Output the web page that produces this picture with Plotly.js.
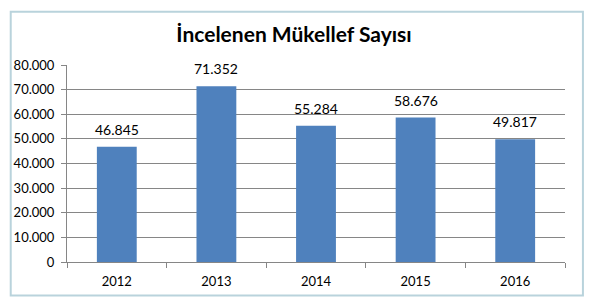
<!DOCTYPE html>
<html>
<head>
<meta charset="utf-8">
<script src="https://cdn.plot.ly/plotly-3.0.1.min.js"></script>
<style>html,body{margin:0;padding:0;background:#fff;}#chart{width:594px;height:303px;}</style>
</head>
<body>
<div id="chart"></div>
<script>
var years = ["2012", "2013", "2014", "2015", "2016"];
var counts = [46845, 71352, 55284, 58676, 49817];
var countLabels = ["46.845", "71.352", "55.284", "58.676", "49.817"];
var yTickVals = [0, 10000, 20000, 30000, 40000, 50000, 60000, 70000, 80000];
var yTickText = ["0", "10.000", "20.000", "30.000", "40.000", "50.000", "60.000", "70.000", "80.000"];

var trace = {
  type: "bar",
  x: years,
  y: counts,
  marker: {color: "#4F81BD"},
  hoverinfo: "none"
};

var labelAnnotations = years.map(function (yr, i) {
  return {
    x: i, y: counts[i], xref: "x", yref: "y",
    text: countLabels[i], showarrow: false,
    yanchor: "bottom", yshift: 7,
    font: {family: "Lato, 'Open Sans', sans-serif", size: 14, color: "#000"}
  };
});

var layout = {
  width: 594, height: 303,
  margin: {l: 67, r: 29, t: 65, b: 41},
  paper_bgcolor: "#fff",
  plot_bgcolor: "#fff",
  bargap: 0.6,
  showlegend: false,
  font: {family: "Lato, 'Open Sans', sans-serif", color: "#000"},
  title: {
    text: "<b>İncelenen Mükellef Sayısı</b>",
    font: {family: "Lato, 'Open Sans', sans-serif", size: 21, color: "#000"},
    x: 0.495, xanchor: "center", y: 0.885, yanchor: "middle"
  },
  xaxis: {
    type: "category",
    showline: true, linecolor: "#868686", linewidth: 1,
    ticks: "outside", ticklen: 5, tickcolor: "#868686",
    tickson: "boundaries",
    tickfont: {size: 13},
    ticklabelstandoff: 7,
    showgrid: false, zeroline: false
  },
  yaxis: {
    range: [0, 80000],
    tickvals: yTickVals, ticktext: yTickText,
    showline: true, linecolor: "#868686", linewidth: 1,
    ticks: "outside", ticklen: 5, tickcolor: "#868686",
    tickfont: {size: 13},
    ticklabelstandoff: 4,
    showgrid: true, gridcolor: "#868686", gridwidth: 1,
    zeroline: false
  },
  annotations: labelAnnotations,
  shapes: [
    {type: "rect", xref: "paper", yref: "paper",
     x0: -0.113, x1: 1.036, y0: -0.17, y1: 1.27,
     line: {color: "#B9D3DC", width: 2}, fillcolor: "rgba(0,0,0,0)"}
  ]
};

Plotly.newPlot("chart", [trace], layout, {displayModeBar: false, staticPlot: true});
</script>
</body>
</html>
